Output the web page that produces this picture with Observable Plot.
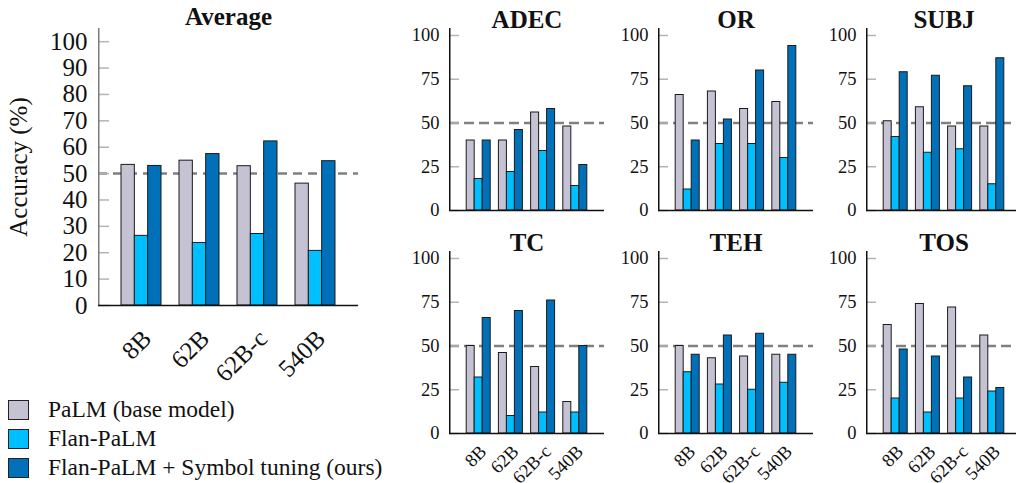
<!DOCTYPE html>
<html><head><meta charset="utf-8">
<script src="https://cdn.jsdelivr.net/npm/d3@7"></script>
<script src="https://cdn.jsdelivr.net/npm/@observablehq/plot@0.6"></script>
<style>
html,body{margin:0;padding:0;background:#fff;overflow:hidden;width:1016px;height:483px;}
#root{position:relative;width:1016px;height:483px;overflow:hidden;font-family:"Liberation Serif","Times New Roman",serif;color:#111;}
.panel{position:absolute;}
.panel svg{max-width:none !important;}
.legend{position:absolute;left:8px;top:395px;font-size:23.5px;color:#111;}
.legend .row{display:flex;align-items:center;height:29px;white-space:nowrap;}
.legend .sw{width:19px;height:18px;border:1.5px solid #222;margin-right:19px;}
</style></head><body><div id="root"></div>
<script>
// ---- data ----
const sizes = ["8B", "62B", "62B-c", "540B"];
const seriesNames = ["PaLM (base model)", "Flan-PaLM", "Flan-PaLM + Symbol tuning (ours)"];
const seriesColors = ["#c5c3d3", "#00bfff", "#0071b9"];

const avgPaLM = [53.3, 54.9, 52.8, 46.2];
const avgFlan = [26.4, 23.7, 27.1, 20.7];
const avgSymbol = [52.9, 57.4, 62.2, 54.7];

const adecPaLM = [40, 40, 56, 48];
const adecFlan = [18, 22, 34, 14];
const adecSymbol = [40, 46, 58, 26];

const orPaLM = [66, 68, 58, 62];
const orFlan = [12, 38, 38, 30];
const orSymbol = [40, 52, 80, 94];

const subjPaLM = [51, 59, 48, 48];
const subjFlan = [42, 33, 35, 15];
const subjSymbol = [79, 77, 71, 87];

const tcPaLM = [50, 46, 38, 18];
const tcFlan = [32, 10, 12, 12];
const tcSymbol = [66, 70, 76, 50];

const tehPaLM = [50, 43, 44, 45];
const tehFlan = [35, 28, 25, 29];
const tehSymbol = [45, 56, 57, 45];

const tosPaLM = [62, 74, 72, 56];
const tosFlan = [20, 12, 20, 24];
const tosSymbol = [48, 44, 32, 26];

const avgTicks = [0, 10, 20, 30, 40, 50, 60, 70, 80, 90, 100];
const smallTicks = [0, 25, 50, 75, 100];
const chance = [50];

// ---- drawing ----
const root = document.getElementById("root");

function panel(o) {
  const innerW = o.width - o.mL - o.mR;
  const n = sizes.length;
  const step = innerW / (n - o.pi + 2 * o.po);
  const seg = step * (1 - o.pi) / 3;
  const marks = [];
  marks.push(Plot.ruleY(chance, {stroke: "#808080", strokeWidth: 2.5, strokeDasharray: o.dash}));
  marks.push(Plot.tickY(o.ticks, {y: d => d, stroke: "#b4b4b4", strokeWidth: 1.5, insetRight: innerW - o.tickLen}));
  [o.palm, o.flan, o.sym].forEach((arr, k) => {
    const rows = sizes.map((s, i) => ({size: s, value: arr[i], series: seriesNames[k]}));
    marks.push(Plot.barY(rows, {x: "size", y: "value", fill: seriesColors[k], stroke: "#1a1a1a", strokeWidth: 1,
      insetLeft: k * seg, insetRight: (2 - k) * seg}));
  });
  marks.push(Plot.rect([0], {y1: 0, y2: o.yMax, fill: o.yAxisColor, insetRight: innerW - 1.5}));
  marks.push(Plot.ruleY([0], {stroke: "#111", strokeWidth: 1.3}));
  marks.push(Plot.axisY({ticks: o.ticks, tickSize: 0, tickPadding: o.labelPad, fontSize: o.fontSize, label: null}));
  if (o.xLabels) marks.push(Plot.axisX({tickRotate: -45, tickSize: 0, tickPadding: o.xPad, dx: o.xDx, fontSize: o.fontSize, label: null}));
  marks.push(Plot.text([o.title], {frameAnchor: "top", lineAnchor: "bottom", dy: o.titleDy, fontSize: 25, fontWeight: "bold"}));
  if (o.ylabel) marks.push(Plot.text([o.ylabel], {frameAnchor: "left", rotate: -90, dx: o.ylabelDx, fontSize: 25, textAnchor: "middle", lineAnchor: "middle"}));
  const svg = Plot.plot({
    width: o.width, height: o.height,
    marginLeft: o.mL, marginRight: o.mR, marginTop: o.mT, marginBottom: o.mB,
    style: {fontFamily: "Liberation Serif, Times New Roman, serif", fontSize: o.fontSize + "px", color: "#111", background: "transparent", overflow: "visible"},
    x: {domain: sizes, paddingInner: o.pi, paddingOuter: o.po, round: false, axis: o.xLabels ? undefined : null},
    y: {domain: [0, o.yMax], nice: false},
    marks
  });
  const div = document.createElement("div");
  div.className = "panel";
  div.style.left = o.left + "px";
  div.style.top = o.top + "px";
  div.style.width = o.width + "px";
  div.style.height = o.height + "px";
  div.appendChild(svg);
  root.appendChild(div);
}

panel({title: "Average", palm: avgPaLM, flan: avgFlan, sym: avgSymbol,
  left: 0, top: 0, width: 380, height: 380, mL: 98, mR: 22, mT: 28, mB: 75,
  yMax: 105, ticks: avgTicks, fontSize: 25, tickLen: 11, labelPad: 11, xLabels: true, xPad: 29, xDx: 5.6,
  pi: 0.3103, po: 0.3966, dash: "9,6", yAxisColor: "#7a7a7a", titleDy: -4, ylabel: "Accuracy (%)", ylabelDx: -80});

const small = [
  {title: "ADEC", palm: adecPaLM, flan: adecFlan, sym: adecSymbol, ax: 449.3, row: 0},
  {title: "OR", palm: orPaLM, flan: orFlan, sym: orSymbol, ax: 657.7, row: 0},
  {title: "SUBJ", palm: subjPaLM, flan: subjFlan, sym: subjSymbol, ax: 865.7, row: 0},
  {title: "TC", palm: tcPaLM, flan: tcFlan, sym: tcSymbol, ax: 449.3, row: 1},
  {title: "TEH", palm: tehPaLM, flan: tehFlan, sym: tehSymbol, ax: 657.7, row: 1},
  {title: "TOS", palm: tosPaLM, flan: tosFlan, sym: tosSymbol, ax: 865.7, row: 1}
];
small.forEach(p => {
  panel({title: p.title, palm: p.palm, flan: p.flan, sym: p.sym,
    left: p.ax - 52, top: p.row ? 223 : 0, width: 212, height: p.row ? 260 : 215,
    mL: 52, mR: 5, mT: 28, mB: p.row ? 50 : 5,
    yMax: 104, ticks: smallTicks, fontSize: 18.5, tickLen: 10, labelPad: 10,
    xLabels: p.row === 1, xPad: 15, xDx: 4.7,
    pi: 0.255, po: 0.534, dash: "10,5", yAxisColor: "#111", titleDy: -0.5});
});

// legend
const legend = document.createElement("div");
legend.className = "legend";
seriesNames.forEach((name, k) => {
  const row = document.createElement("div");
  row.className = "row";
  const sw = document.createElement("div");
  sw.className = "sw";
  sw.style.background = seriesColors[k];
  const t = document.createElement("span");
  t.textContent = name;
  row.appendChild(sw);
  row.appendChild(t);
  legend.appendChild(row);
});
root.appendChild(legend);
</script>
</body></html>
